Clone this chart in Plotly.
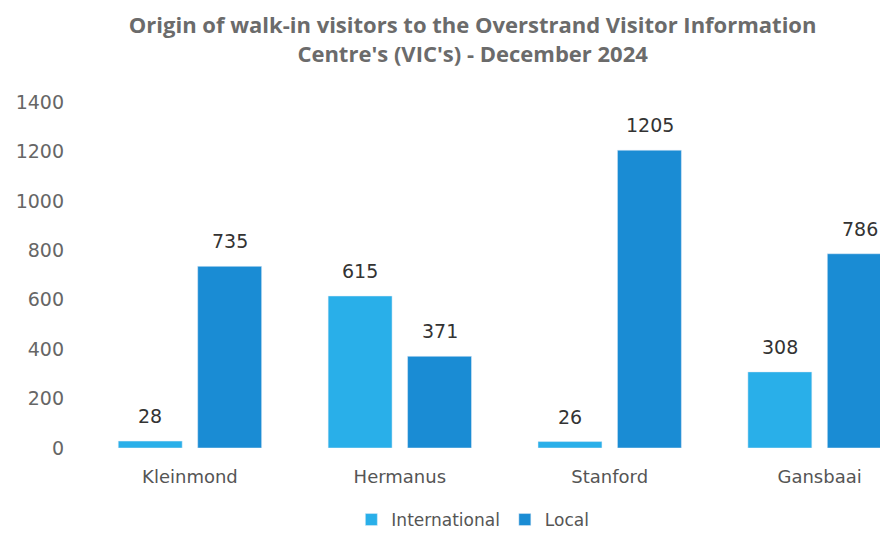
import plotly.graph_objects as go

categories = ["Kleinmond", "Hermanus", "Stanford", "Gansbaai"]
international = [28, 615, 26, 308]
local = [735, 371, 1205, 786]
y_ticks = [0, 200, 400, 600, 800, 1000, 1200, 1400]

C_INT = "#29AFE9"
C_LOC = "#1A8CD4"
TFONT = "Open Sans"
NFONT = "DejaVu Sans"

fig = go.Figure()
fig.add_trace(go.Bar(name="International", x=categories, y=international,
                     marker_color=C_INT))
fig.add_trace(go.Bar(name="Local", x=categories, y=local,
                     marker_color=C_LOC))

annotations = []
for vals, shift in ((international, -40), (local, 40)):
    for c, v in zip(categories, vals):
        annotations.append(dict(x=c, y=v, xref="x", yref="y", text=str(v),
                                showarrow=False, xshift=shift, yshift=25,
                                font=dict(family=NFONT, size=19, color="#333333")))

fig.update_layout(
    width=880, height=530,
    margin=dict(l=77, r=0, t=94, b=90),
    paper_bgcolor="white", plot_bgcolor="white",
    barmode="group", bargap=0.243, bargroupgap=0.195,
    title=dict(text="Origin of walk-in visitors to the Overstrand Visitor Information<br>Centre's (VIC's) - December 2024",
               x=0.528, xanchor="center", yref="container", y=0.953, yanchor="middle",
               font=dict(family=TFONT, size=22, color="#6b6b6b", weight="bold")),
    font=dict(family=NFONT, color="#555555"),
    legend=dict(orientation="h", x=0.483, xanchor="center",
                yref="container", y=0.0, yanchor="bottom",
                font=dict(family=NFONT, size=17, color="#555555"),
                itemwidth=30, traceorder="normal"),
    annotations=annotations,
    showlegend=True,
)
fig.update_xaxes(range=[-0.5, 3.326], showgrid=False, showline=False, zeroline=False,
                 ticks="", tickfont=dict(family=NFONT, size=18, color="#555555"),
                 ticklabelstandoff=16)
fig.update_yaxes(range=[0, 1400], tickvals=y_ticks, showgrid=False, showline=False,
                 zeroline=False, ticks="", ticklabelstandoff=20,
                 tickfont=dict(family=NFONT, size=19, color="#666666"))

fig.write_html("out.html")
